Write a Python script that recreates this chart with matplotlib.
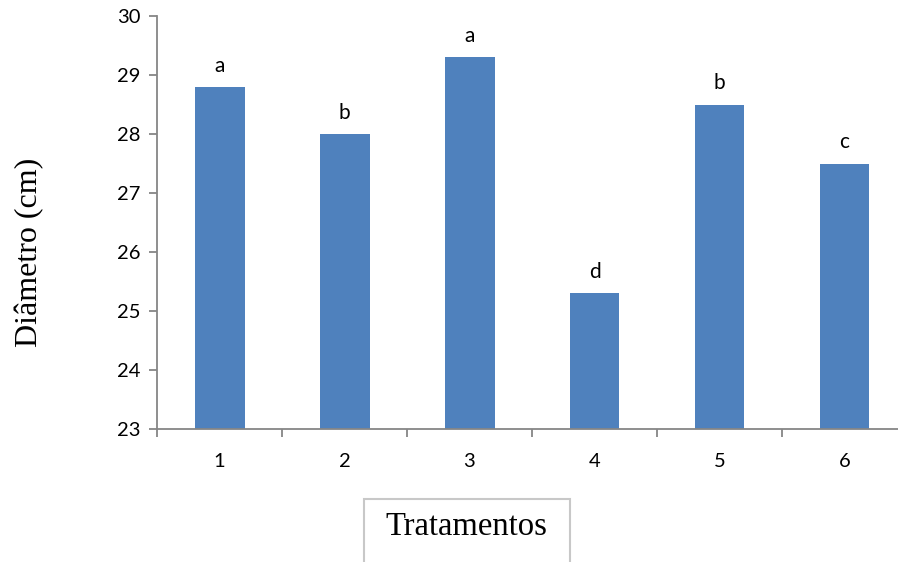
import matplotlib
matplotlib.use("Agg")
import matplotlib.pyplot as plt
from matplotlib.patches import Rectangle

tratamentos = ["1", "2", "3", "4", "5", "6"]
diametro = [28.8, 28.0, 29.3, 25.3, 28.5, 27.5]
letras = ["a", "b", "a", "d", "b", "c"]
y_ticks = [23, 24, 25, 26, 27, 28, 29, 30]

W, H = 898, 562
fig = plt.figure(figsize=(W / 100, H / 100), dpi=100)
ax = fig.add_axes([157 / W, 1 - 429 / H, 750 / W, 413 / H])

axis_color = "#868686"
tick_font = "Lato"
serif = "Liberation Serif"
fs = 14.5

x = list(range(1, len(tratamentos) + 1))
bars = ax.bar(x, diametro, width=0.4, color="#4F81BD", zorder=2)

for xi, v, l in zip(x, diametro, letras):
    ax.annotate(l, (xi, v), xytext=(0, 8), textcoords="offset points",
                ha="center", va="bottom", fontsize=15, family=tick_font,
                color="black")

ax.set_xlim(0.5, len(tratamentos) + 0.5)
ax.set_ylim(23, 30)
ax.set_yticks(y_ticks)
ax.set_yticklabels([str(t) for t in y_ticks], fontsize=fs, family=tick_font)

# boundary ticks on the major locator, category labels on the minor one
ax.set_xticks([i + 0.5 for i in range(0, len(tratamentos) + 1)])
ax.set_xticklabels([])
ax.set_xticks(x, minor=True)
ax.set_xticklabels(tratamentos, minor=True, fontsize=fs, family=tick_font)
ax.tick_params(axis="x", which="minor", length=0, pad=17)
ax.tick_params(axis="x", which="major", length=6, width=1.3, color=axis_color)
ax.tick_params(axis="y", length=6, width=1.3, color=axis_color, pad=6)

for s in ["top", "right"]:
    ax.spines[s].set_visible(False)
for s in ["left", "bottom"]:
    ax.spines[s].set_color(axis_color)
    ax.spines[s].set_linewidth(1.3)

fig.text(30 / W, 1 - 252 / H, "Diâmetro (cm)", rotation=90, ha="center",
         va="center", fontsize=23, family=serif)

fig.patches.append(Rectangle((364 / W, -0.05), (570 - 364) / W, 0.05 + 1 - 499 / H,
                             transform=fig.transFigure, fill=False,
                             edgecolor="#C8C8C8", linewidth=1.5))
fig.text(466 / W, 1 - 527 / H, "Tratamentos", ha="center", va="center",
         fontsize=23.5, family=serif)

fig.savefig("out.png", dpi=100)
